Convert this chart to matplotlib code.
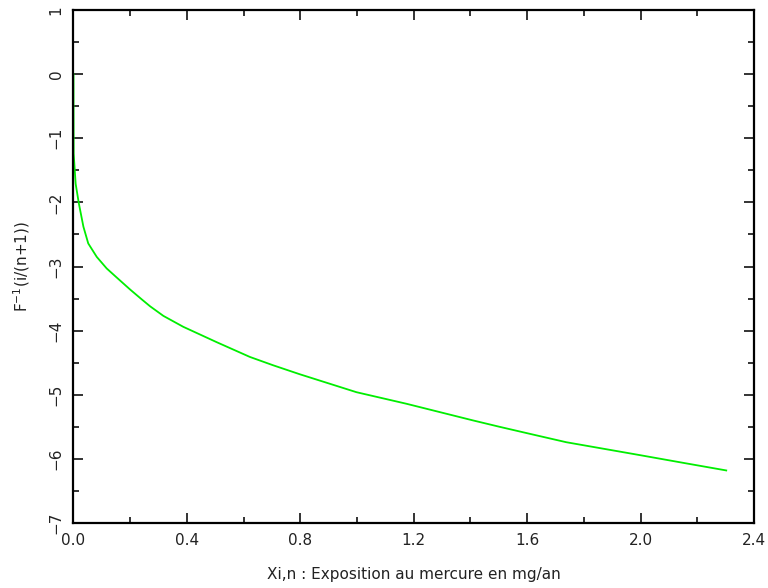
import matplotlib.pyplot as plt
from matplotlib.ticker import MultipleLocator

x_vals = [0.0, 0.0002, 0.0006, 0.0076, 0.019, 0.035, 0.052, 0.082, 0.117,
          0.152, 0.2, 0.24, 0.27, 0.317, 0.387, 0.505, 0.622, 0.704, 0.798, 0.998,
          1.174, 1.409, 1.503, 1.62, 1.738, 1.996, 2.161, 2.302]
y_vals = [0.0, -0.6, -1.24, -1.71, -2.02, -2.38, -2.64, -2.85, -3.03,
          -3.17, -3.36, -3.51, -3.62, -3.77, -3.94, -4.18, -4.41, -4.54, -4.68, -4.96,
          -5.14, -5.40, -5.50, -5.62, -5.74, -5.94, -6.07, -6.18]

x_label = "Xi,n : Exposition au mercure en mg/an"
y_label = r"F$^{-1}$(i/(n+1))"

plt.rcParams.update({"font.family": "DejaVu Sans", "font.size": 11})

fig = plt.figure(figsize=(7.68, 5.88), dpi=100)
ax = fig.add_axes([0.0957, 0.1105, 0.8861, 0.8725])
ax.plot(x_vals, y_vals, color="#00ee00", lw=1.3)

ax.set_xlim(0, 2.4)
ax.set_ylim(-7, 1)
ax.xaxis.set_major_locator(MultipleLocator(0.4))
ax.xaxis.set_minor_locator(MultipleLocator(0.2))
ax.yaxis.set_major_locator(MultipleLocator(1))
ax.yaxis.set_minor_locator(MultipleLocator(0.5))
ax.xaxis.set_major_formatter(lambda v, p: f"{v:.1f}")
ax.yaxis.set_major_formatter(lambda v, p: f"\u2212{abs(v):.0f}" if v < 0 else f"{v:.0f}")
ax.tick_params(which="both", direction="in", top=True, right=True,
               colors="#111111", labelcolor="#222222", width=1.2)
ax.tick_params(which="major", length=7, pad=7)
ax.tick_params(which="minor", length=4)
for lab in ax.get_yticklabels():
    lab.set_rotation(90)
    lab.set_va("center")
for s in ax.spines.values():
    s.set_linewidth(1.6)

ax.set_xlabel(x_label, color="#222222", labelpad=14)
ax.set_ylabel(y_label, color="#222222", labelpad=12)

fig.savefig("out.png", dpi=100)
